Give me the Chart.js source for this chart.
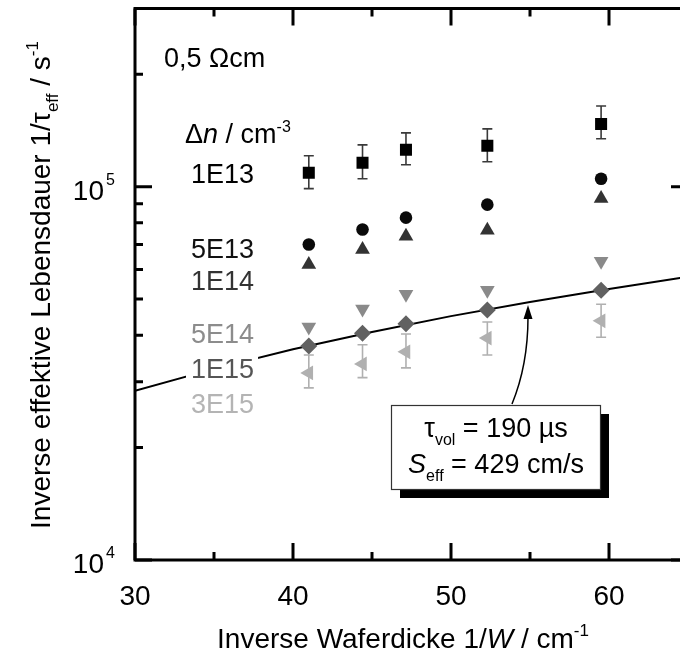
<!DOCTYPE html>
<html lang="de">
<head>
<meta charset="UTF-8">
<title>Inverse Lebensdauer vs. Waferdicke</title>
<script src="https://cdn.jsdelivr.net/npm/chart.js"></script>
<style>
    html, body {
        margin: 0;
        padding: 0;
        background: #fff;
        overflow: hidden;
    }
    .wrap {
        position: relative;
        width: 700px;
        height: 655px;
    }
</style>
</head>
<body>
<div class="wrap">
    <canvas id="lifetimeChart" width="700" height="655"></canvas>
</div>
<script>
// inverse wafer thickness 1/W in cm^-1
const waferX = [41, 44.4, 47.15, 52.3, 59.5];

// inverse effective lifetime 1/tau_eff in s^-1, one array per injection level
const dn1e13 = [109000, 115900, 125500, 128600, 147200];
const dn5e13 = [70000, 76800, 82600, 89500, 105000];
const dn1e14 = [61900, 67900, 73600, 76400, 92900];
const dn5e14 = [42100, 47000, 51500, 52800, 63100];
const dn1e15 = [37450, 40500, 42900, 46700, 52800];
const dn3e15 = [31700, 33500, 36100, 39300, 43700];

// error bar limits
const dn1e13Low = [98800, 105000, 114500, 116600, 134300];
const dn1e13High = [121000, 129400, 139300, 142800, 164400];
const dn3e15Low = [28900, 30800, 32700, 35400, 39500];
const dn3e15High = [35400, 37700, 40300, 43400, 48400];

// fitted curve (tau_vol = 190 us, S_eff = 429 cm/s)
const fitX = [30, 35, 40, 45, 50, 55, 60, 65];
const fitY = [28400, 32500, 36700, 40800, 45000, 49100, 53200, 57400];

// axis ticks
const xMajorTicks = [30, 40, 50, 60];
const xMinorTicks = [35, 45, 55, 65];
const xTickLabels = ['30', '40', '50', '60'];
const yMajorTicks = [1e4, 1e5];
const yMinorTicks = [2e4, 3e4, 4e4, 5e4, 6e4, 7e4, 8e4, 9e4, 2e5, 3e5];
const yTickLabels = [['10', '4'], ['10', '5']];

const FONT = '"Liberation Sans", Arial, Helvetica, sans-serif';

function setFont(ctx, size, italic) {
    ctx.font = (italic ? 'italic ' : '') + size + 'px ' + FONT;
}

// draws a run of text pieces: n = normal, i = italic, sub / sup = small and shifted
function drawRich(ctx, parts, x, y, size, align) {
    let total = 0;
    const segs = parts.map(([t, k]) => {
        const s = (k === 'sub' || k === 'sup') ? Math.round(size * 0.6) : size;
        setFont(ctx, s, k === 'i');
        const w = ctx.measureText(t).width;
        total += w;
        return { t, k, s, w };
    });
    let cx = align === 'center' ? x - total / 2 : align === 'right' ? x - total : x;
    ctx.textAlign = 'left';
    ctx.textBaseline = 'alphabetic';
    segs.forEach(sg => {
        setFont(ctx, sg.s, sg.k === 'i');
        const dy = sg.k === 'sub' ? size * 0.3 : sg.k === 'sup' ? -size * 0.42 : 0;
        ctx.fillText(sg.t, cx, y + dy);
        cx += sg.w;
    });
    return total;
}

const pts = arr => waferX.map((x, i) => ({ x: x, y: arr[i] }));

function markerSet(label, arr, style, color, radius, rotation) {
    return {
        label: label,
        data: pts(arr),
        pointStyle: style,
        rotation: rotation || 0,
        pointRadius: radius,
        pointBackgroundColor: color,
        pointBorderColor: color,
        pointBorderWidth: 0,
        showLine: false,
        order: 1
    };
}

const errorBarPlugin = {
    id: 'errorBars',
    beforeDatasetsDraw(chart) {
        const { ctx, scales: { x, y } } = chart;
        const sets = [
            { low: dn1e13Low, high: dn1e13High, color: '#3a3a3a' },
            { low: dn3e15Low, high: dn3e15High, color: '#b0b0b0' }
        ];
        ctx.save();
        ctx.lineWidth = 1.6;
        sets.forEach(s => {
            ctx.strokeStyle = s.color;
            waferX.forEach((wx, i) => {
                const px = x.getPixelForValue(wx);
                const y0 = y.getPixelForValue(s.low[i]);
                const y1 = y.getPixelForValue(s.high[i]);
                ctx.beginPath();
                ctx.moveTo(px, y0); ctx.lineTo(px, y1);
                ctx.moveTo(px - 5, y0); ctx.lineTo(px + 5, y0);
                ctx.moveTo(px - 5, y1); ctx.lineTo(px + 5, y1);
                ctx.stroke();
            });
        });
        ctx.restore();
    }
};

const decorPlugin = {
    id: 'decor',
    afterDatasetsDraw(chart) {
        const { ctx, chartArea: a, scales: { x, y } } = chart;
        ctx.save();

        // injection level labels, white backing hides the fit line behind them
        const levels = [
            ['1E13', 173, '#000000'],
            ['5E13', 248, '#111111'],
            ['1E14', 280, '#333333'],
            ['5E14', 333, '#8c8c8c'],
            ['1E15', 368, '#555555'],
            ['3E15', 403, '#b4b4b4']
        ];
        setFont(ctx, 27, false);
        levels.forEach(([t, cy, col]) => {
            const w = ctx.measureText(t).width;
            ctx.fillStyle = '#fff';
            ctx.fillRect(186, cy - 14, w + 9, 28);
        });
        levels.forEach(([t, cy, col]) => {
            ctx.fillStyle = col;
            drawRich(ctx, [[t, 'n']], 191, cy + 10, 27, 'left');
        });

        ctx.fillStyle = '#000';
        drawRich(ctx, [['0,5 Ωcm', 'n']], 164, 57 + 10, 27, 'left');
        drawRich(ctx, [['Δ', 'n'], ['n', 'i'], [' / cm', 'n'], ['-3', 'sup']], 185, 133 + 10, 27, 'left');

        // fit annotation with drop shadow
        const bx0 = 391, by0 = 405, bx1 = 600, by1 = 489;
        ctx.fillStyle = '#000';
        ctx.fillRect(bx0 + 9, by0 + 9, bx1 - bx0, by1 - by0);
        ctx.fillStyle = '#fff';
        ctx.fillRect(bx0, by0, bx1 - bx0, by1 - by0);
        ctx.strokeStyle = '#333';
        ctx.lineWidth = 1.2;
        ctx.strokeRect(bx0 + 0.5, by0 + 0.5, bx1 - bx0, by1 - by0);
        ctx.fillStyle = '#000';
        drawRich(ctx, [['τ', 'n'], ['vol', 'sub'], [' = 190 µs', 'n']], 496, 437, 27, 'center');
        drawRich(ctx, [['S', 'i'], ['eff', 'sub'], [' = 429 cm/s', 'n']], 496, 473, 27, 'center');

        // arrow from the box to the fit curve
        ctx.strokeStyle = '#000';
        ctx.lineWidth = 1.5;
        ctx.beginPath();
        ctx.moveTo(512, by0 - 1);
        ctx.quadraticCurveTo(528, 365, 528, 317);
        ctx.stroke();
        ctx.beginPath();
        ctx.moveTo(528, 305);
        ctx.lineTo(523.5, 319);
        ctx.lineTo(532.5, 319);
        ctx.closePath();
        ctx.fill();

        // frame and inward ticks
        ctx.strokeStyle = '#000';
        ctx.lineWidth = 3;
        ctx.strokeRect(a.left, a.top, a.right - a.left, a.bottom - a.top);
        const tickX = (v, len) => {
            const px = x.getPixelForValue(v);
            ctx.beginPath();
            ctx.moveTo(px, a.bottom); ctx.lineTo(px, a.bottom - len);
            ctx.moveTo(px, a.top); ctx.lineTo(px, a.top + len);
            ctx.stroke();
        };
        const tickY = (v, len) => {
            const py = y.getPixelForValue(v);
            ctx.beginPath();
            ctx.moveTo(a.left, py); ctx.lineTo(a.left + len, py);
            ctx.moveTo(a.right, py); ctx.lineTo(a.right - len, py);
            ctx.stroke();
        };
        xMajorTicks.forEach(v => tickX(v, 17));
        xMinorTicks.forEach(v => tickX(v, 8));
        yMajorTicks.forEach(v => tickY(v, 17));
        yMinorTicks.forEach(v => tickY(v, 8));

        // tick labels
        ctx.fillStyle = '#000';
        xMajorTicks.forEach((v, i) => {
            drawRich(ctx, [[xTickLabels[i], 'n']], x.getPixelForValue(v), 605, 28, 'center');
        });
        yMajorTicks.forEach((v, i) => {
            const py = y.getPixelForValue(v);
            drawRich(ctx, [[yTickLabels[i][0], 'n']], 104, py + 13, 28, 'right');
            setFont(ctx, 16, false);
            ctx.fillText(yTickLabels[i][1], 106, py - 2);
        });

        // axis titles
        drawRich(ctx, [['Inverse Waferdicke 1/', 'n'], ['W', 'i'], [' / cm', 'n'], ['-1', 'sup']],
            403, 648, 28, 'center');
        ctx.translate(40, 285);
        ctx.rotate(-Math.PI / 2);
        drawRich(ctx, [['Inverse effektive Lebensdauer 1/τ', 'n'], ['eff', 'sub'], [' / s', 'n'], ['-1', 'sup']],
            0, 10, 28, 'center');

        ctx.restore();
    }
};

const ctx = document.getElementById('lifetimeChart').getContext('2d');
new Chart(ctx, {
    type: 'scatter',
    data: {
        datasets: [
            markerSet('1E13', dn1e13, 'rect', '#000000', 8.5),
            markerSet('5E13', dn5e13, 'circle', '#0a0a0a', 6.3),
            markerSet('1E14', dn1e14, 'triangle', '#333333', 8.5),
            markerSet('5E14', dn5e14, 'triangle', '#8a8a8a', 8.5, 180),
            markerSet('1E15', dn1e15, 'rectRot', '#616161', 8.5),
            markerSet('3E15', dn3e15, 'triangle', '#b0b0b0', 8.5, 270),
            {
                label: 'Fit',
                data: fitX.map((v, i) => ({ x: v, y: fitY[i] })),
                showLine: true,
                borderColor: '#000',
                borderWidth: 2,
                pointRadius: 0,
                tension: 0,
                order: 5
            }
        ]
    },
    options: {
        responsive: false,
        animation: false,
        devicePixelRatio: 1,
        layout: { padding: { left: 135, right: 12, top: 8, bottom: 95 } },
        plugins: {
            legend: { display: false },
            tooltip: { enabled: false }
        },
        scales: {
            x: { type: 'linear', min: 30, max: 65, display: false },
            y: { type: 'logarithmic', min: 1e4, max: 3e5, display: false }
        }
    },
    plugins: [errorBarPlugin, decorPlugin]
});
</script>
</body>
</html>
